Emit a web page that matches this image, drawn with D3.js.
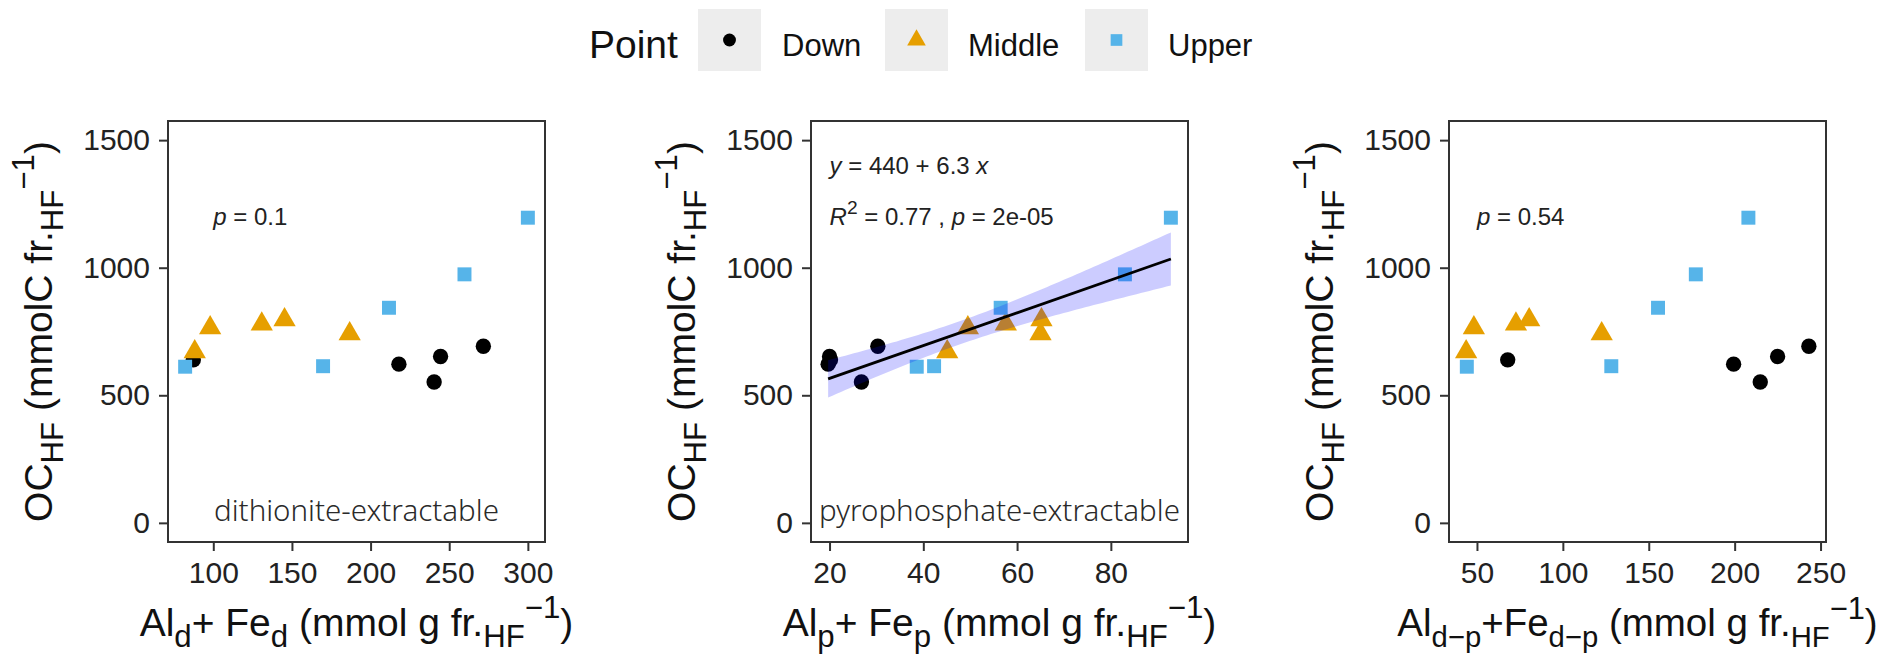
<!DOCTYPE html>
<html>
<head>
<meta charset="utf-8">
<script src="https://cdn.jsdelivr.net/npm/d3@7"></script>
<style>
  body { margin: 0; background: #fff; }
  svg { display: block; font-family: "Liberation Sans", Arial, sans-serif; }
</style>
</head>
<body>
<div id="chart"></div>
<script>
// samples: 5 per group, same order in every array
const groups = ["Down", "Middle", "Upper"];
const pointGroup = [
  "Down", "Down", "Down", "Down", "Down",
  "Middle", "Middle", "Middle", "Middle", "Middle",
  "Upper", "Upper", "Upper", "Upper", "Upper",
];
const ocHF = [639, 622, 552, 652, 692, 670, 764, 779, 796, 741, 612, 614, 843, 974, 1196];
const alFeD = [87.3, 218, 240.4, 244.5, 271.7, 88.2, 98, 130.8, 145.3, 186.7, 82.1, 169.8, 211.7, 259.7, 300];
const alFeP = [20.2, 19.7, 26.8, 20, 30.3, 45.1, 49.5, 57.6, 65.2, 65, 38.6, 42.3, 56.5, 83, 92.8];
const alFeDP = [67.9, 199.4, 214.9, 225, 243.2, 43.7, 48.2, 72.7, 80.4, 122.6, 44.1, 128.2, 155.4, 177.4, 208];

const yTicks = [0, 500, 1000, 1500];
const xTicksD = [100, 150, 200, 250, 300];
const xTicksP = [20, 40, 60, 80];
const xTicksDP = [50, 100, 150, 200, 250];

const colors = { Down: "#000000", Middle: "#E69F00", Upper: "#56B4E9" };
const shapes = { Down: d3.symbolCircle, Middle: d3.symbolTriangle, Upper: d3.symbolSquare };
const symSize = { Down: 185, Middle: 215, Upper: 195 };

const width = 1882,
  height = 655;
const plotTop = 121,
  plotBottom = 542,
  panelW = 377;
const tQuantile = 2.1604; // t(0.975, df = 13)

const svg = d3
  .select("#chart")
  .append("svg")
  .attr("width", width)
  .attr("height", height);

const y = d3.scaleLinear().domain([-75, 1575]).range([plotBottom, plotTop]);

// write text with sub/superscripts as tspans
function rich(sel, parts, size, subScale = 0.8) {
  let shift = 0;
  parts.forEach(([t, kind]) => {
    let target = 0,
      fs = size;
    if (kind === "sub") { target = 0.28 * size; fs = subScale * size; }
    if (kind === "sup") { target = -0.45 * size; fs = 0.8 * size; }
    const ts = sel.append("tspan").attr("dy", target - shift).attr("font-size", fs).text(t);
    if (kind === "i") ts.attr("font-style", "italic");
    shift = target;
  });
}

const yTitle = [["OC"], ["HF", "sub"], [" (mmolC fr."], ["HF", "sub"], ["\u22121", "sup"], [")"]];

const panels = [
  {
    left: 168, xs: alFeD, ticks: xTicksD, label: "dithionite-extractable", titleSize: 39,
    title: [["Al"], ["d", "sub"], ["+ Fe"], ["d", "sub"], [" (mmol g fr."], ["HF", "sub"], ["\u22121", "sup"], [")"]],
    stats: [{ x: 100, y: 1200, parts: [["p", "i"], [" = 0.1"]] }],
  },
  {
    left: 811, xs: alFeP, ticks: xTicksP, label: "pyrophosphate-extractable", fit: true, titleSize: 39,
    title: [["Al"], ["p", "sub"], ["+ Fe"], ["p", "sub"], [" (mmol g fr."], ["HF", "sub"], ["\u22121", "sup"], [")"]],
    stats: [
      { x: 20, y: 1400, parts: [["y", "i"], [" = 440 + 6.3 "], ["x", "i"]] },
      { x: 20, y: 1200, parts: [["R", "i"], ["2", "sup"], [" = 0.77 , "], ["p", "i"], [" = 2e-05"]] },
    ],
  },
  {
    left: 1449, xs: alFeDP, ticks: xTicksDP, label: "", titleSize: 38.5, subScale: 0.76,
    title: [["Al"], ["d\u2212p", "sub"], ["+Fe"], ["d\u2212p", "sub"], [" (mmol g fr."], ["HF", "sub"], ["\u22121", "sup"], [")"]],
    stats: [{ x: 50, y: 1200, parts: [["p", "i"], [" = 0.54"]] }],
  },
];

panels.forEach((p) => {
  const ext = d3.extent(p.xs);
  const pad = (ext[1] - ext[0]) * 0.05;
  const x = d3.scaleLinear().domain([ext[0] - pad, ext[1] + pad]).range([p.left, p.left + panelW]);
  const g = svg.append("g");

  // points
  g.selectAll("path.pt")
    .data(d3.range(ocHF.length))
    .join("path")
    .attr("class", "pt")
    .attr("transform", (i) => `translate(${x(p.xs[i])},${y(ocHF[i])})`)
    .attr("d", (i) => d3.symbol().type(shapes[pointGroup[i]]).size(symSize[pointGroup[i]])())
    .attr("fill", (i) => colors[pointGroup[i]]);

  // linear fit with 95% band
  if (p.fit) {
    const mx = d3.mean(p.xs), my = d3.mean(ocHF), n = ocHF.length;
    const sxx = d3.sum(p.xs, (v) => (v - mx) ** 2);
    const sxy = d3.sum(p.xs, (v, i) => (v - mx) * (ocHF[i] - my));
    const slope = sxy / sxx, icpt = my - slope * mx;
    const s = Math.sqrt(d3.sum(p.xs, (v, i) => (ocHF[i] - icpt - slope * v) ** 2) / (n - 2));
    const xsFit = d3.range(ext[0], ext[1] + 1e-9, (ext[1] - ext[0]) / 80);
    const band = xsFit.map((v) => {
      const se = s * Math.sqrt(1 / n + (v - mx) ** 2 / sxx);
      const f = icpt + slope * v;
      return { v, lo: f - tQuantile * se, hi: f + tQuantile * se };
    });
    g.append("path")
      .datum(band)
      .attr("fill", "#0000ff")
      .attr("fill-opacity", 0.2)
      .attr("d", d3.area().x((d) => x(d.v)).y0((d) => y(d.lo)).y1((d) => y(d.hi)));
    g.append("line")
      .attr("x1", x(ext[0])).attr("y1", y(icpt + slope * ext[0]))
      .attr("x2", x(ext[1])).attr("y2", y(icpt + slope * ext[1]))
      .attr("stroke", "#000").attr("stroke-width", 2.8);
  }

  // panel border
  g.append("rect")
    .attr("x", p.left).attr("y", plotTop)
    .attr("width", panelW).attr("height", plotBottom - plotTop)
    .attr("fill", "none").attr("stroke", "#333").attr("stroke-width", 2);

  // axes
  const ax = g.append("g")
    .attr("transform", `translate(0,${plotBottom})`)
    .call(d3.axisBottom(x).tickValues(p.ticks).tickSize(9).tickPadding(11).tickSizeOuter(0));
  const ay = g.append("g")
    .attr("transform", `translate(${p.left},0)`)
    .call(d3.axisLeft(y).tickValues(yTicks).tickFormat(d3.format("d")).tickSize(9).tickPadding(9).tickSizeOuter(0));
  [ax, ay].forEach((a) => {
    a.select(".domain").remove();
    a.selectAll("line").attr("stroke", "#333").attr("stroke-width", 2);
    a.selectAll("text").attr("font-size", 30).attr("fill", "#222")
      .attr("font-family", '"Liberation Sans", Arial, sans-serif');
  });

  // axis titles
  rich(g.append("text").attr("x", p.left + panelW / 2).attr("y", 636)
    .attr("text-anchor", "middle").attr("fill", "#111"), p.title, p.titleSize, p.subScale);
  rich(g.append("text")
    .attr("transform", `translate(${p.left - 116},${(plotTop + plotBottom) / 2}) rotate(-90)`)
    .attr("text-anchor", "middle").attr("fill", "#111"), yTitle, 39);

  // stat annotations
  p.stats.forEach((st) => {
    rich(g.append("text").attr("x", x(st.x)).attr("y", y(st.y) + 8).attr("fill", "#222"), st.parts, 24);
  });

  // extraction label
  g.append("text")
    .attr("x", p.left + panelW / 2).attr("y", 521)
    .attr("text-anchor", "middle")
    .attr("font-family", '"Noto Sans", sans-serif')
    .attr("font-weight", 300)
    .attr("font-size", 29.5)
    .attr("fill", "#2a2a2a")
    .text(p.label);
});

// legend at top
const legend = svg.append("g");
legend.append("text").attr("x", 589).attr("y", 58).attr("font-size", 39).attr("fill", "#111").text("Point");
const keyX = [698, 885, 1085];
const labelX = [782, 968, 1168];
groups.forEach((gr, i) => {
  legend.append("rect")
    .attr("x", keyX[i]).attr("y", 9).attr("width", 63).attr("height", 62)
    .attr("fill", "#ededed");
  legend.append("path")
    .attr("transform", `translate(${keyX[i] + 31.5},40)`)
    .attr("d", d3.symbol().type(shapes[gr]).size(symSize[gr] * 0.7)())
    .attr("fill", colors[gr]);
  legend.append("text").attr("x", labelX[i]).attr("y", 56)
    .attr("font-size", 31).attr("fill", "#111").text(gr);
});
</script>
</body>
</html>
